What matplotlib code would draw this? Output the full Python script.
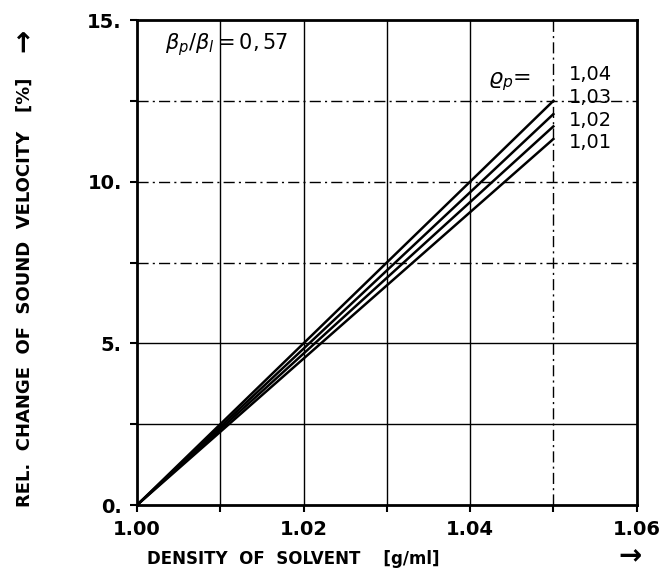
import numpy as np
import matplotlib.pyplot as plt

# density of solvent [g/ml]
x_start = 1.00
x_end = 1.05
# rho_p curves and their end values at x_end [%]
rho_p = ['1,04', '1,03', '1,02', '1,01']
y_end = [12.5, 12.09, 11.71, 11.32]

x_ticks = [1.00, 1.02, 1.04, 1.06]
x_ticklabels = ['1.00', '1.02', '1.04', '1.06']
y_ticks = [0, 5, 10, 15]
y_ticklabels = ['0.', '5.', '10.', '15.']

fig = plt.figure(figsize=(6.6, 5.75), dpi=100)
ax = fig.add_axes([0.2076, 0.1217, 0.757, 0.8435])

# grid
for gx in [1.01, 1.02, 1.03, 1.04]:
    ax.axvline(gx, color='black', lw=1.0, zorder=1)
ax.axvline(1.05, color='black', lw=1.0, ls=(0, (8, 3, 1.5, 3)), zorder=1)
for gy in [2.5, 5.0]:
    ax.axhline(gy, color='black', lw=1.0, zorder=1)
for gy in [7.5, 10.0, 12.5]:
    ax.axhline(gy, color='black', lw=1.0, ls=(0, (8, 3, 1.5, 3)), zorder=1)

for ye in y_end:
    ax.plot([x_start, x_end], [0, ye], color='black', lw=1.8, zorder=3)

ax.set_xlim(1.00, 1.06)
ax.set_ylim(0, 15)
ax.set_xticks(x_ticks)
ax.set_xticklabels(x_ticklabels)
ax.set_yticks(y_ticks)
ax.set_yticklabels(y_ticklabels)
ax.set_xticks(np.arange(1.00, 1.061, 0.01), minor=True)
ax.set_yticks(np.arange(0, 15.1, 2.5), minor=True)
ax.tick_params(which='both', direction='out', length=5, width=1.5)
ax.tick_params(labelsize=14, pad=6)
for lab in ax.get_xticklabels() + ax.get_yticklabels():
    lab.set_fontweight('bold')
for sp in ax.spines.values():
    sp.set_linewidth(2.0)

ax.text(1.0034, 14.23, r'$\beta_p/\beta_l = 0,57$', fontsize=15, va='center')
ax.text(1.0421, 13.1, r'$\varrho_p$=', fontsize=16, va='center')
for i, lab in enumerate(rho_p):
    ax.text(1.0519, 13.3 - i * 0.7, lab, fontsize=14, va='center')

fig.text(0.445, 0.012, 'DENSITY  OF  SOLVENT    [g/ml]', ha='center', va='bottom',
         fontsize=12, fontweight='bold')
fig.text(0.955, 0.008, '\u2192', ha='center', va='bottom', fontsize=20, fontweight='bold')
fig.text(0.038, 0.118, 'REL.  CHANGE  OF  SOUND  VELOCITY   [%]', rotation=90,
         ha='center', va='bottom', fontsize=13, fontweight='bold')
fig.text(0.036, 0.93, '\u2192', rotation=90, ha='center', va='center',
         fontsize=20, fontweight='bold')

fig.savefig('out.png', dpi=100)
